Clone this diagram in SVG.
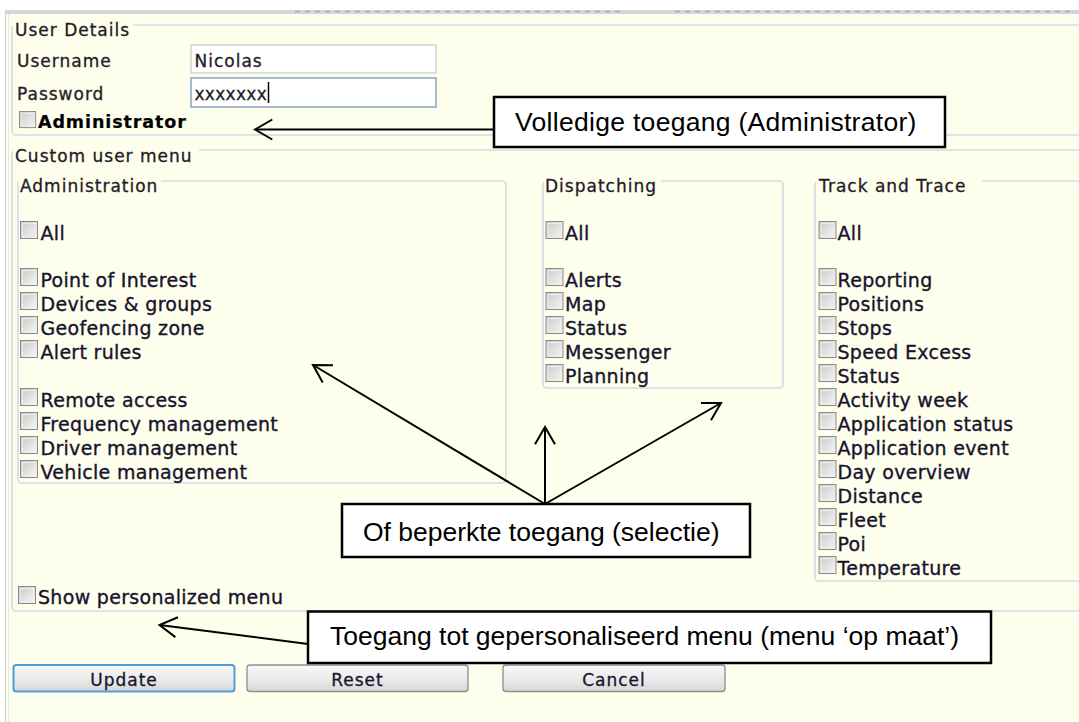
<svg xmlns="http://www.w3.org/2000/svg" xmlns:xlink="http://www.w3.org/1999/xlink" width="1079" height="722" viewBox="0 0 1079 722">
<defs>
<style>
.lbl{font-family:"DejaVu Sans",Verdana,sans-serif;font-size:19px;letter-spacing:0.3px;fill:#16142e;stroke:#16142e;stroke-width:0.35px}
.leg{font-family:"DejaVu Sans",Verdana,sans-serif;font-size:17px;letter-spacing:1px;fill:#241a28;stroke:#241a28;stroke-width:0.3px}
.btn{font-family:"DejaVu Sans",Verdana,sans-serif;font-size:17px;letter-spacing:1px;fill:#16142e;stroke:#16142e;stroke-width:0.3px;text-anchor:middle}
.call{font-family:"Liberation Sans",Arial,sans-serif;font-size:26.5px;fill:#000}
.fs{fill:none;stroke:#d2dae3;stroke-width:1.6}
.box{fill:#fff;stroke:#000;stroke-width:2.5}
.con{fill:none;stroke:#000;stroke-width:2;marker-end:url(#ah)}
.bk{fill:#fefeec}
</style>
<linearGradient id="cbg" x1="0" y1="0" x2="1" y2="1">
<stop offset="0" stop-color="#c9c9c9"/><stop offset="1" stop-color="#f7f7f7"/>
</linearGradient>
<linearGradient id="btg" x1="0" y1="0" x2="0" y2="1">
<stop offset="0" stop-color="#f8f8f8"/><stop offset="0.5" stop-color="#ececec"/><stop offset="1" stop-color="#d6d6d6"/>
</linearGradient>
<g id="cb">
<rect x="0.5" y="0.5" width="17" height="17" fill="url(#cbg)" stroke="#8a8a8a"/>
<rect x="2.5" y="2.5" width="13" height="13" fill="none" stroke="#ececec" stroke-width="1"/>
</g>
<marker id="ah" markerUnits="userSpaceOnUse" markerWidth="24" markerHeight="24" viewBox="-20 -12 24 24" refX="0" refY="0" orient="auto" overflow="visible">
<path d="M-17.3,-10 L0,0 L-17.3,10" fill="none" stroke="#000" stroke-width="2"/>
</marker>
</defs>

<!-- page background -->
<rect x="0" y="0" width="1079" height="722" fill="#ffffff"/>
<rect x="5" y="14" width="1074" height="708" class="bk"/>
<rect x="5" y="10" width="1074" height="4" fill="#d6d6d6"/>
<line x1="295" y1="11.5" x2="625" y2="11.5" stroke="#7d8aa6" stroke-width="1.5" stroke-dasharray="5 5" opacity="0.55"/>
<line x1="675" y1="11.5" x2="1075" y2="11.5" stroke="#7d8aa6" stroke-width="1.5" stroke-dasharray="5 5" opacity="0.55"/>
<line x1="5.5" y1="10" x2="5.5" y2="722" stroke="#cfcfcf" stroke-width="1"/>
<line x1="8.5" y1="14" x2="8.5" y2="722" stroke="#e3e7ec" stroke-width="1"/>

<!-- User Details fieldset -->
<g id="user-details">
<rect x="12" y="25" width="1080" height="110" rx="4" class="fs"/>
<rect x="13" y="18" width="120" height="14" class="bk"/>
<text x="15" y="36" class="leg">User Details</text>
<text x="17" y="67" class="leg">Username</text>
<rect x="191" y="45" width="245" height="28" fill="#fff" stroke="#c9c9c9" stroke-width="1.2"/>
<text x="194.5" y="67" class="leg">Nicolas</text>
<text x="17" y="100" class="leg">Password</text>
<rect x="191" y="78" width="245" height="29" fill="#fff" stroke="#7f9dc0" stroke-width="1.4"/>
<text x="194.5" y="100" class="leg" style="letter-spacing:0.3px">xxxxxxx</text>
<line x1="268.5" y1="82" x2="268.5" y2="103" stroke="#000" stroke-width="1.5"/>
<use xlink:href="#cb" transform="translate(19,111) scale(0.95)"/>
<text x="38" y="128" class="lbl" style="font-weight:bold;font-size:17.5px;letter-spacing:0.9px;fill:#000;stroke:#000;stroke-width:0.2px">Administrator</text>
</g>

<!-- Custom user menu fieldset -->
<g id="custom-menu">
<rect x="12" y="150" width="1080" height="461" rx="4" class="fs"/>
<rect x="13" y="143" width="186" height="14" class="bk"/>
<text x="15" y="162" class="leg">Custom user menu</text>
<use xlink:href="#cb" x="18" y="586"/>
<text x="38" y="604" class="lbl">Show personalized menu</text>
</g>

<!-- Administration -->
<g id="administration">
<rect x="18" y="181" width="488" height="302" rx="4" class="fs"/>
<rect x="19" y="174" width="142" height="14" class="bk"/>
<text x="20" y="192" class="leg">Administration</text>
<use xlink:href="#cb" x="20" y="221"/><text x="40.5" y="240" class="lbl">All</text>
<use xlink:href="#cb" x="20" y="268"/><text x="40.5" y="287" class="lbl">Point of Interest</text>
<use xlink:href="#cb" x="20" y="292"/><text x="40.5" y="311" class="lbl">Devices &amp; groups</text>
<use xlink:href="#cb" x="20" y="316"/><text x="40.5" y="335" class="lbl">Geofencing zone</text>
<use xlink:href="#cb" x="20" y="340"/><text x="40.5" y="359" class="lbl">Alert rules</text>
<use xlink:href="#cb" x="20" y="388"/><text x="40.5" y="407" class="lbl">Remote access</text>
<use xlink:href="#cb" x="20" y="412"/><text x="40.5" y="431" class="lbl">Frequency management</text>
<use xlink:href="#cb" x="20" y="436"/><text x="40.5" y="455" class="lbl">Driver management</text>
<use xlink:href="#cb" x="20" y="460"/><text x="40.5" y="479" class="lbl">Vehicle management</text>
</g>

<!-- Dispatching -->
<g id="dispatching">
<rect x="543" y="181" width="240" height="207" rx="4" class="fs"/>
<rect x="544" y="174" width="117" height="14" class="bk"/>
<text x="545" y="192" class="leg">Dispatching</text>
<use xlink:href="#cb" x="545.5" y="221"/><text x="565" y="240" class="lbl">All</text>
<use xlink:href="#cb" x="545.5" y="268"/><text x="565" y="287" class="lbl">Alerts</text>
<use xlink:href="#cb" x="545.5" y="292"/><text x="565" y="311" class="lbl">Map</text>
<use xlink:href="#cb" x="545.5" y="316"/><text x="565" y="335" class="lbl">Status</text>
<use xlink:href="#cb" x="545.5" y="340"/><text x="565" y="359" class="lbl">Messenger</text>
<use xlink:href="#cb" x="545.5" y="364"/><text x="565" y="383" class="lbl">Planning</text>
</g>

<!-- Track and Trace -->
<g id="track-and-trace">
<rect x="815" y="181" width="280" height="400" rx="4" class="fs"/>
<rect x="816" y="174" width="166" height="14" class="bk"/>
<text x="819" y="192" class="leg">Track and Trace</text>
<use xlink:href="#cb" x="818.5" y="221"/><text x="837.5" y="240" class="lbl">All</text>
<use xlink:href="#cb" x="818.5" y="268"/><text x="837.5" y="287" class="lbl">Reporting</text>
<use xlink:href="#cb" x="818.5" y="292"/><text x="837.5" y="311" class="lbl">Positions</text>
<use xlink:href="#cb" x="818.5" y="316"/><text x="837.5" y="335" class="lbl">Stops</text>
<use xlink:href="#cb" x="818.5" y="340"/><text x="837.5" y="359" class="lbl">Speed Excess</text>
<use xlink:href="#cb" x="818.5" y="364"/><text x="837.5" y="383" class="lbl">Status</text>
<use xlink:href="#cb" x="818.5" y="388"/><text x="837.5" y="407" class="lbl">Activity week</text>
<use xlink:href="#cb" x="818.5" y="412"/><text x="837.5" y="431" class="lbl">Application status</text>
<use xlink:href="#cb" x="818.5" y="436"/><text x="837.5" y="455" class="lbl">Application event</text>
<use xlink:href="#cb" x="818.5" y="460"/><text x="837.5" y="479" class="lbl">Day overview</text>
<use xlink:href="#cb" x="818.5" y="484"/><text x="837.5" y="503" class="lbl">Distance</text>
<use xlink:href="#cb" x="818.5" y="508"/><text x="837.5" y="527" class="lbl">Fleet</text>
<use xlink:href="#cb" x="818.5" y="532"/><text x="837.5" y="551" class="lbl">Poi</text>
<use xlink:href="#cb" x="818.5" y="556"/><text x="837.5" y="575" class="lbl">Temperature</text>
</g>

<!-- Buttons -->
<g id="btn-update">
<rect x="13.5" y="665" width="221" height="26.5" rx="3" fill="url(#btg)" stroke="#4c9fd8" stroke-width="2"/>
<text x="124" y="686" class="btn">Update</text>
</g>
<g id="btn-reset">
<rect x="247" y="665" width="221" height="26.5" rx="3" fill="url(#btg)" stroke="#8e8e8e" stroke-width="1.3"/>
<text x="357.5" y="686" class="btn">Reset</text>
</g>
<g id="btn-cancel">
<rect x="503" y="665" width="222" height="26.5" rx="3" fill="url(#btg)" stroke="#8e8e8e" stroke-width="1.3"/>
<text x="614" y="686" class="btn">Cancel</text>
</g>

<!-- Connectors -->
<g id="connectors">
<path class="con" d="M494,129.5 L255,129.5"/>
<path class="con" d="M545,504 L313,365"/>
<path class="con" d="M545,504 L545,427"/>
<path class="con" d="M545,504 L721,403"/>
<path class="con" d="M308,644 L159.5,625"/>
</g>

<!-- Callouts -->
<g id="callout-admin">
<rect x="494" y="97" width="451" height="50" class="box"/>
<text x="515" y="131" class="call" style="letter-spacing:0.3px">Volledige toegang (Administrator)</text>
</g>
<g id="callout-selection">
<rect x="342" y="504" width="408" height="53" class="box"/>
<text x="363" y="541" class="call">Of beperkte toegang (selectie)</text>
</g>
<g id="callout-menu">
<rect x="308" y="611.5" width="683" height="51.5" class="box"/>
<text x="330" y="645" class="call">Toegang tot gepersonaliseerd menu (menu ‘op maat’)</text>
</g>
</svg>
